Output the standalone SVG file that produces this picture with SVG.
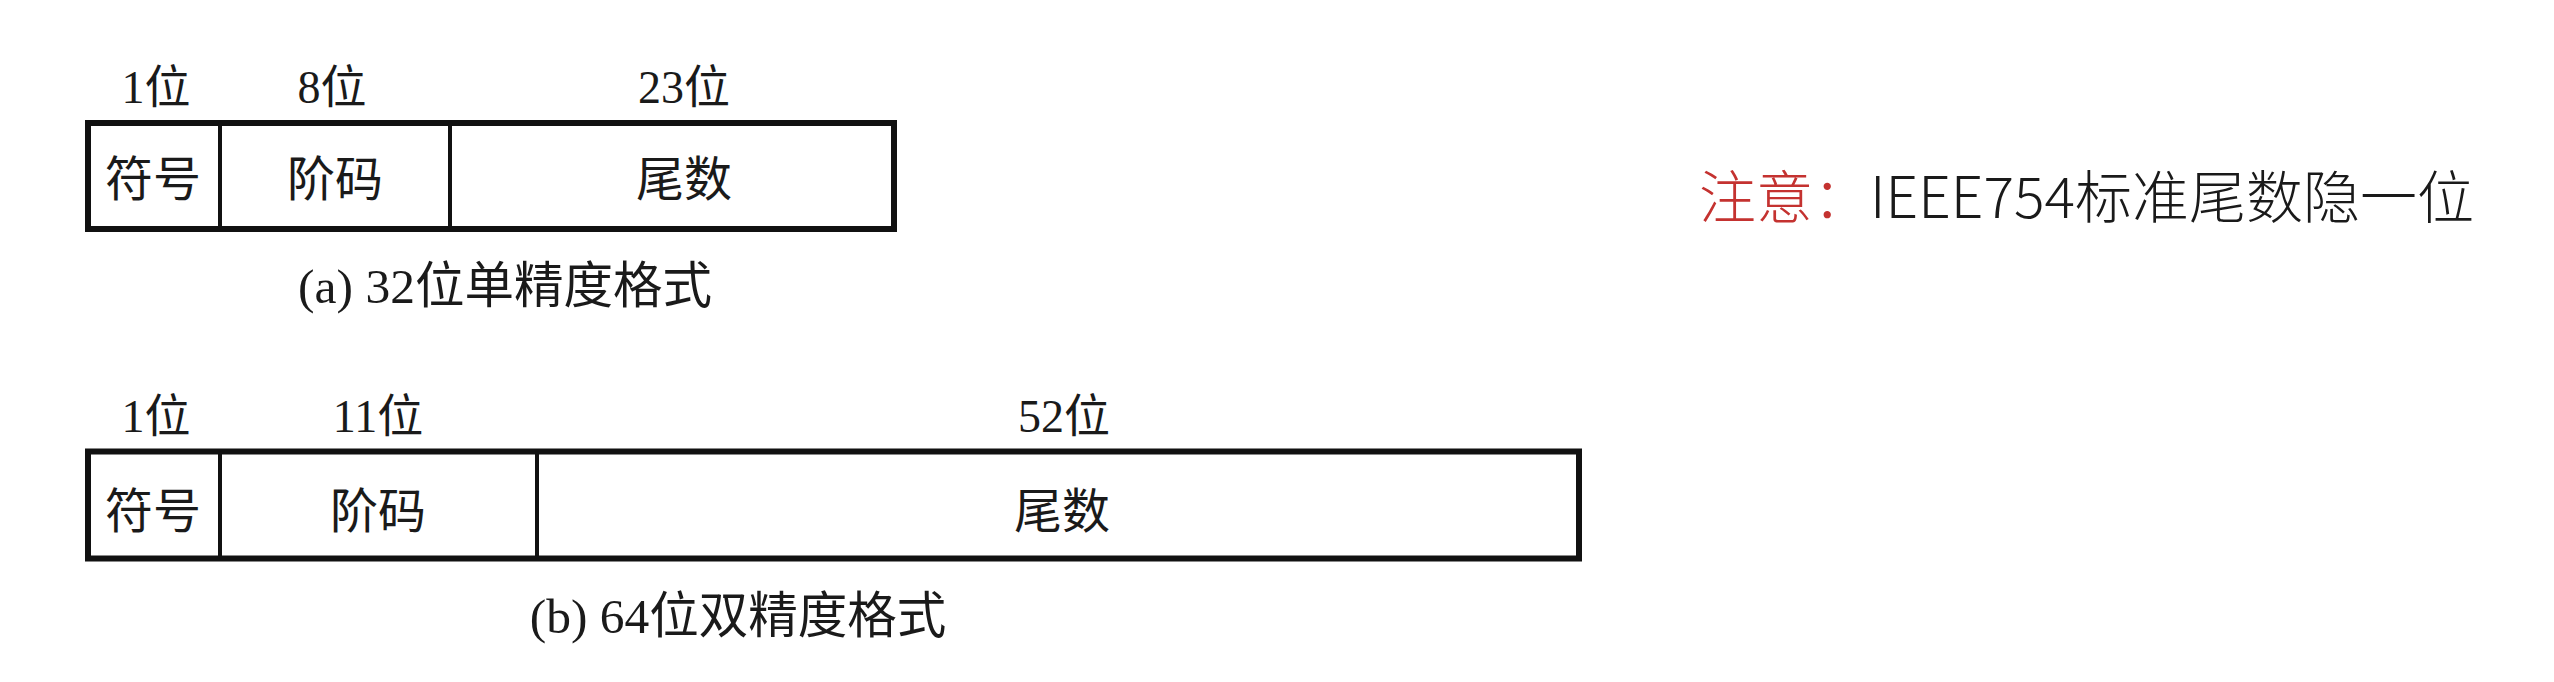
<svg xmlns="http://www.w3.org/2000/svg" width="2554" height="682" viewBox="0 0 2554 682">
<style>
.bg{fill:#ffffff}
.box{fill:#ffffff;stroke:#111111;stroke-width:6}
.div{stroke:#111111;stroke-width:4}
.t{font-family:"Liberation Serif","Noto Sans CJK SC",serif;fill:#1a1a1a;text-anchor:middle}
.lbl{font-size:46px}
.cell{font-size:48px}
.cap{font-size:49.5px}
.note{font-family:"Noto Sans CJK SC","Noto Sans",sans-serif;font-size:57px;font-weight:300;fill:#1a1a1a}
.red{fill:#c43230}
</style>
<rect class="bg" x="0" y="0" width="2554" height="682"/>
<g id="single">
  <g id="single-labels">
    <text class="t lbl" x="156" y="103">1位</text>
    <text class="t lbl" x="332" y="103">8位</text>
    <text class="t lbl" x="684" y="103">23位</text>
  </g>
  <g id="single-box">
    <rect class="box" x="88" y="123" width="806" height="106"/>
    <line class="div" x1="220" y1="123" x2="220" y2="229"/>
    <line class="div" x1="450" y1="123" x2="450" y2="229"/>
  </g>
  <g id="single-sign"><text class="t cell" x="153" y="196">符号</text></g>
  <g id="single-exp"><text class="t cell" x="335" y="196">阶码</text></g>
  <g id="single-mant"><text class="t cell" x="684" y="196">尾数</text></g>
  <text class="t cap" x="505" y="303">(a) 32位单精度格式</text>
</g>
<g id="double">
  <g id="double-labels">
    <text class="t lbl" x="156" y="432">1位</text>
    <text class="t lbl" x="378" y="432">11位</text>
    <text class="t lbl" x="1064" y="432">52位</text>
  </g>
  <g id="double-box">
    <rect class="box" x="88" y="451.5" width="1491" height="107"/>
    <line class="div" x1="220" y1="451.5" x2="220" y2="558.5"/>
    <line class="div" x1="537" y1="451.5" x2="537" y2="558.5"/>
  </g>
  <g id="double-sign"><text class="t cell" x="153" y="528">符号</text></g>
  <g id="double-exp"><text class="t cell" x="378" y="528">阶码</text></g>
  <g id="double-mant"><text class="t cell" x="1062" y="528">尾数</text></g>
  <text class="t cap" x="738" y="633">(b) 64位双精度格式</text>
</g>
<g id="note">
  <text class="note" x="1699" y="218"><tspan class="red">注意：</tspan>IEEE754标准尾数隐一位</text>
</g>
</svg>
